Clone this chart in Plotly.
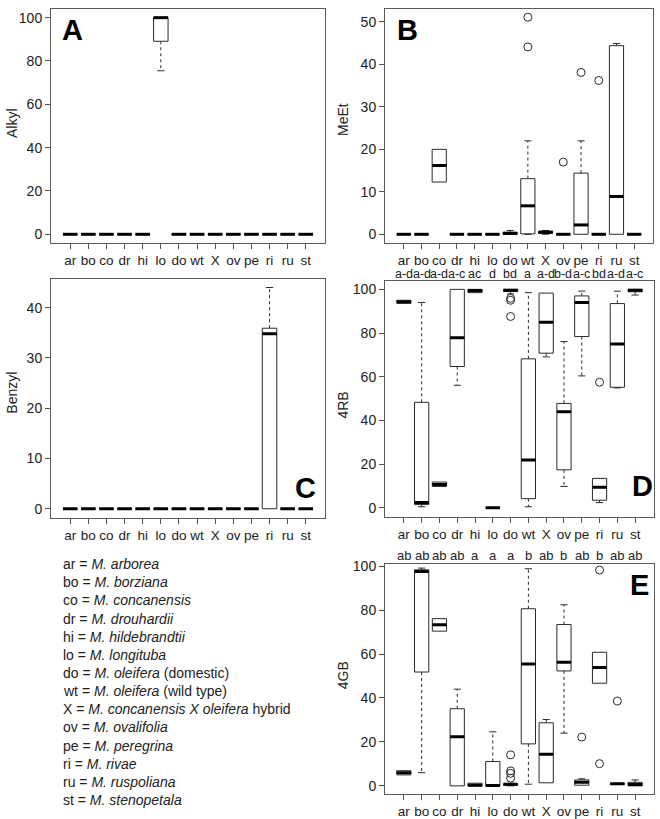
import plotly.graph_objects as go

codes = ["ar", "bo", "co", "dr", "hi", "lo", "do", "wt", "X", "ov", "pe", "ri", "ru", "st"]

# Panel A : Alkyl
alkyl_q1  = [0, 0, 0, 0, 0, 89.1, 0, 0, 0, 0, 0, 0, 0, 0]
alkyl_med = [0, 0, 0, 0, 0, 100, 0, 0, 0, 0, 0, 0, 0, 0]
alkyl_q3  = [0, 0, 0, 0, 0, 100, 0, 0, 0, 0, 0, 0, 0, 0]
alkyl_lo  = [0, 0, 0, 0, 0, 75.5, 0, 0, 0, 0, 0, 0, 0, 0]
alkyl_hi  = [0, 0, 0, 0, 0, 100, 0, 0, 0, 0, 0, 0, 0, 0]
alkyl_out = [[], [], [], [], [], [], [], [], [], [], [], [], [], []]

# Panel B : MeEt
meet_q1  = [0, 0, 12.3, 0, 0, 0, 0, 0.1, 0.2, 0, 0, 0, 0, 0]
meet_med = [0, 0, 16.2, 0, 0, 0, 0.2, 6.7, 0.5, 0, 2.2, 0, 8.9, 0]
meet_q3  = [0, 0, 20.0, 0, 0, 0, 0.5, 13.1, 0.7, 0, 14.4, 0, 44.4, 0]
meet_lo  = [0, 0, 12.3, 0, 0, 0, 0, 0, 0, 0, 0, 0, 0, 0]
meet_hi  = [0, 0, 20.0, 0, 0, 0, 0.9, 22.0, 0.9, 0, 22.0, 0, 44.9, 0]
meet_out = [[], [], [], [], [], [], [], [51.1, 44.1], [], [17.0], [38.1], [36.2], [], []]
meet_letters = ["a-d", "a-d", "a-d", "a-c", "ac", "d", "bd", "a", "a-d", "b-d", "a-c", "bd", "a-d", "a-c"]

# Panel C : Benzyl
benz_q1  = [0, 0, 0, 0, 0, 0, 0, 0, 0, 0, 0, 0, 0, 0]
benz_med = [0, 0, 0, 0, 0, 0, 0, 0, 0, 0, 0, 34.8, 0, 0]
benz_q3  = [0, 0, 0, 0, 0, 0, 0, 0, 0, 0, 0, 35.9, 0, 0]
benz_lo  = [0, 0, 0, 0, 0, 0, 0, 0, 0, 0, 0, 0, 0, 0]
benz_hi  = [0, 0, 0, 0, 0, 0, 0, 0, 0, 0, 0, 44.0, 0, 0]
benz_out = [[], [], [], [], [], [], [], [], [], [], [], [], [], []]

# Panel D : 4RB
rb_q1  = [93.6, 1.5, 9.8, 64.7, 98.5, 0, 99.0, 4.2, 70.8, 17.4, 78.4, 3.5, 55.2, 98.9]
rb_med = [94.3, 2.5, 10.7, 77.8, 99.5, 0, 99.6, 21.9, 84.9, 44.0, 94.0, 9.4, 75.0, 99.6]
rb_q3  = [95.0, 48.3, 11.8, 100, 100, 0, 100, 68.2, 98.3, 47.8, 97.0, 13.5, 93.5, 100]
rb_lo  = [93.6, 0.5, 9.8, 56.1, 98.5, 0, 97.9, 0.5, 69.1, 9.8, 60.4, 2.4, 54.9, 97.4]
rb_hi  = [95.0, 94.0, 11.8, 100, 100, 0, 100, 98.5, 98.3, 76.1, 99.2, 13.5, 99.2, 100]
rb_out = [[], [], [], [], [], [], [95.9, 95.0, 87.6], [], [], [], [], [57.5], [], []]

# Panel E : 4GB
gb_q1  = [5.0, 51.8, 70.4, 0, 0, 0, 0.3, 19.1, 1.4, 52.3, 0.3, 46.7, 0.6, 0]
gb_med = [6.0, 97.6, 73.3, 22.4, 0.3, 0.2, 0.75, 55.4, 14.4, 56.3, 1.65, 53.9, 0.9, 0.6]
gb_q3  = [6.9, 98.3, 76.1, 35.1, 1.2, 11.1, 1.0, 80.6, 28.7, 73.4, 2.7, 60.8, 1.1, 1.6]
gb_lo  = [5.0, 6.0, 70.4, 0, 0, 0, 0, 0.75, 1.4, 24.0, 0.3, 46.7, 0.6, 0]
gb_hi  = [6.9, 99.1, 76.1, 44.0, 1.2, 24.6, 1.2, 98.8, 30.2, 82.4, 3.2, 60.8, 1.1, 2.7]
gb_out = [[], [], [], [], [], [], [14.1, 6.8, 5.7, 3.5], [], [], [], [22.2], [98.2, 10.1], [38.6], []]
gb_letters = ["ab", "ab", "ab", "ab", "a", "a", "a", "b", "ab", "b", "ab", "b", "ab", "ab"]

legend_codes = ["ar", "bo", "co", "dr", "hi", "lo", "do", "wt", "X", "ov", "pe", "ri", "ru", "st"]
legend_names = ["M. arborea", "M. borziana", "M. concanensis", "M. drouhardii", "M. hildebrandtii",
                "M. longituba", "M. oleifera", "M. oleifera", "M. concanensis X oleifera",
                "M. ovalifolia", "M. peregrina", "M. rivae", "M. ruspoliana", "M. stenopetala"]
legend_suffix = ["", "", "", "", "", "", " (domestic)", " (wild type)", " hybrid", "", "", "", "", ""]

W, H = 660, 819
FONT = "Liberation Sans, Arial, Helvetica, sans-serif"
BOXC = "#2a2a2a"
FRAME = "#5a5a5a"
TXT = "#222222"

fig = go.Figure()


def px_x(p):
    return p / W


def px_y(p):
    return 1 - p / H


panels = [
    dict(ax="", q1=alkyl_q1, med=alkyl_med, q3=alkyl_q3, lo=alkyl_lo, hi=alkyl_hi, out=alkyl_out,
         yr=[-4, 104], dt=20, xd=(51, 325), yd=(3, 239), title="Alkyl", tx=12, ty=118,
         letter="A", lx=72, ly=24),
    dict(ax="2", q1=meet_q1, med=meet_med, q3=meet_q3, lo=meet_lo, hi=meet_hi, out=meet_out,
         yr=[-2.04, 53.04], dt=10, xd=(385, 653), yd=(3, 239), title="MeEt", tx=343, ty=115,
         letter="B", lx=407, ly=24),
    dict(ax="3", q1=benz_q1, med=benz_med, q3=benz_q3, lo=benz_lo, hi=benz_hi, out=benz_out,
         yr=[-1.76, 45.76], dt=10, xd=(51, 325), yd=(275, 516), title="Benzyl", tx=12, ty=390,
         letter="C", lx=305, ly=486),
    dict(ax="4", q1=rb_q1, med=rb_med, q3=rb_q3, lo=rb_lo, hi=rb_hi, out=rb_out,
         yr=[-4, 104], dt=20, xd=(385, 654), yd=(277, 515), title="4RB", tx=343, ty=403,
         letter="D", lx=642, ly=484),
    dict(ax="5", q1=gb_q1, med=gb_med, q3=gb_q3, lo=gb_lo, hi=gb_hi, out=gb_out,
         yr=[-3.8, 101.1], dt=20, xd=(385, 654), yd=(562.5, 795), title="4GB", tx=343, ty=675,
         letter="E", lx=639, ly=584),
]

annotations = []
for p in panels:
    xa = "x" + p["ax"]
    ya = "y" + p["ax"]
    bx, by, mx, my, wx, wy, sx, sy, ox, oy = [], [], [], [], [], [], [], [], [], []
    for i in range(len(codes)):
        c = i + 1
        q1, md, q3, lo, hi = p["q1"][i], p["med"][i], p["q3"][i], p["lo"][i], p["hi"][i]
        bx += [c - 0.4, c + 0.4, c + 0.4, c - 0.4, c - 0.4, None]
        by += [q1, q1, q3, q3, q1, None]
        mx += [c - 0.4, c + 0.4, None]
        my += [md, md, None]
        if hi > q3:
            wx += [c, c, None]
            wy += [q3, hi, None]
            sx += [c - 0.2, c + 0.2, None]
            sy += [hi, hi, None]
        if lo < q1:
            wx += [c, c, None]
            wy += [q1, lo, None]
            sx += [c - 0.2, c + 0.2, None]
            sy += [lo, lo, None]
        for o in p["out"][i]:
            ox.append(c)
            oy.append(o)
    common = dict(xaxis=xa, yaxis=ya, showlegend=False, hoverinfo="skip")
    fig.add_trace(go.Scatter(x=wx, y=wy, mode="lines", line=dict(color=BOXC, width=1, dash="3px,3px"), **common))
    fig.add_trace(go.Scatter(x=sx, y=sy, mode="lines", line=dict(color=BOXC, width=1), **common))
    fig.add_trace(go.Scatter(x=bx, y=by, mode="lines", line=dict(color=BOXC, width=1), **common))
    fig.add_trace(go.Scatter(x=mx, y=my, mode="lines", line=dict(color="black", width=3), **common))
    fig.add_trace(go.Scatter(x=ox, y=oy, mode="markers",
                             marker=dict(symbol="circle-open", size=8, color=BOXC, line=dict(width=1)), **common))

    xkey = "xaxis" + p["ax"]
    ykey = "yaxis" + p["ax"]
    fig.layout[xkey] = dict(
        domain=[px_x(p["xd"][0]), px_x(p["xd"][1])], anchor=ya,
        range=[-0.06, 15.06], tickmode="array", tickvals=list(range(1, 15)), ticktext=codes,
        showline=True, mirror=True, linecolor=FRAME, linewidth=1,
        ticks="outside", ticklen=5, tickcolor="#555", showgrid=False, zeroline=False,
        tickfont=dict(family=FONT, size=13.5, color=TXT), fixedrange=True)
    fig.layout[ykey] = dict(
        domain=[px_y(p["yd"][1]), px_y(p["yd"][0])], anchor=xa,
        range=p["yr"], dtick=p["dt"], tick0=0,
        showline=True, mirror=True, linecolor=FRAME, linewidth=1,
        ticks="outside", ticklen=5, tickcolor="#555", showgrid=False, zeroline=False,
        tickfont=dict(family=FONT, size=14, color=TXT), fixedrange=True)
    annotations.append(dict(text=p["title"], x=px_x(p["tx"]), y=px_y(p["ty"]), xref="paper", yref="paper",
                            textangle=-90, showarrow=False, font=dict(family=FONT, size=14, color=TXT),
                            xanchor="center", yanchor="middle"))
    annotations.append(dict(text="<b>" + p["letter"] + "</b>", x=px_x(p["lx"]), y=px_y(p["ly"]),
                            xref="paper", yref="paper", showarrow=False,
                            font=dict(family=FONT, size=29, color="black"),
                            xanchor="center", yanchor="middle"))

# significance letters
for i, t in enumerate(meet_letters):
    annotations.append(dict(text=t, x=i + 1, y=px_y(270), xref="x2", yref="paper", showarrow=False,
                            font=dict(family=FONT, size=12.5, color=TXT), xanchor="center", yanchor="middle"))
for i, t in enumerate(gb_letters):
    annotations.append(dict(text=t, x=i + 1, y=px_y(554), xref="x5", yref="paper", showarrow=False,
                            font=dict(family=FONT, size=13, color=TXT), xanchor="center", yanchor="middle"))

# species key
for k, (c, n, s) in enumerate(zip(legend_codes, legend_names, legend_suffix)):
    annotations.append(dict(text=c + " = <i>" + n + "</i>" + s, x=px_x(61), y=px_y(563 + k * 18.3),
                            xref="paper", yref="paper", showarrow=False,
                            font=dict(family=FONT, size=14, color=TXT), xanchor="left", yanchor="middle"))

fig.update_layout(width=W, height=H, margin=dict(l=0, r=0, t=0, b=0),
                  paper_bgcolor="white", plot_bgcolor="white", annotations=annotations,
                  showlegend=False)

fig.write_html("out.html", config={"displayModeBar": False},
               post_script="document.body.style.margin='0';document.body.style.padding='0';"
                           "document.body.style.overflow='hidden';")
